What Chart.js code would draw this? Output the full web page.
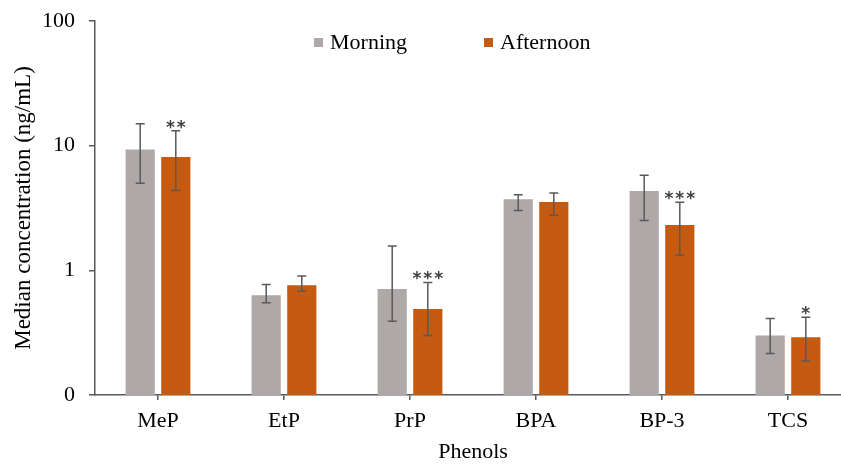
<!DOCTYPE html>
<html>
<head>
<meta charset="utf-8">
<script src="https://cdn.jsdelivr.net/npm/chart.js@4/dist/chart.umd.min.js"></script>
<style>
  html, body { margin: 0; padding: 0; background: #fff; overflow: hidden; }
  #wrap { width: 860px; height: 465px; }
</style>
</head>
<body>
<div id="wrap"><canvas id="chart" width="860" height="465"></canvas></div>
<script>
// Datos
const categories = ['MeP', 'EtP', 'PrP', 'BPA', 'BP-3', 'TCS'];
const morning = [9.3, 0.63, 0.71, 3.72, 4.33, 0.30];
const morningLow = [5.0, 0.55, 0.39, 3.02, 2.51, 0.215];
const morningHigh = [15.0, 0.77, 1.57, 4.03, 5.8, 0.41];
const afternoon = [8.1, 0.76, 0.49, 3.54, 2.31, 0.29];
const afternoonLow = [4.37, 0.68, 0.30, 2.76, 1.32, 0.187];
const afternoonHigh = [13.2, 0.90, 0.80, 4.18, 3.52, 0.42];
const afternoonStars = ['**', '', '***', '', '***', '*'];
const yTickValues = [0.1, 1, 10, 100];
const yTickLabels = ['0', '1', '10', '100'];

const axisColor = '#595959';
const serif = '"Liberation Serif", "Times New Roman", serif';

// Barras de error y asteriscos
const errorBars = {
    id: 'errorBars',
    afterDatasetsDraw(chart) {
        const ctx = chart.ctx;
        const y = chart.scales.y;
        const ranges = [[morningLow, morningHigh], [afternoonLow, afternoonHigh]];
        ctx.save();
        ctx.strokeStyle = axisColor;
        ctx.lineWidth = 1.5;
        ranges.forEach(([low, high], di) => {
            chart.getDatasetMeta(di).data.forEach((bar, i) => {
                const x = bar.x;
                const yl = y.getPixelForValue(low[i]);
                const yh = y.getPixelForValue(high[i]);
                ctx.beginPath();
                ctx.moveTo(x, yl); ctx.lineTo(x, yh);
                ctx.moveTo(x - 4.5, yl); ctx.lineTo(x + 4.5, yl);
                ctx.moveTo(x - 4.5, yh); ctx.lineTo(x + 4.5, yh);
                ctx.stroke();
                if (di === 1 && afternoonStars[i]) {
                    ctx.fillStyle = '#404040';
                    ctx.font = 'bold 17px "DejaVu Sans", sans-serif';
                    ctx.letterSpacing = '2px';
                    ctx.textAlign = 'center';
                    ctx.textBaseline = 'alphabetic';
                    ctx.fillText(afternoonStars[i], x + 1, yh + 2);
                }
            });
        });
        ctx.restore();
    }
};

// Leyenda dibujada a mano
const customLegend = {
    id: 'customLegend',
    afterDraw(chart) {
        const ctx = chart.ctx;
        const pos = [314, 484];
        ctx.save();
        ctx.font = '22px ' + serif;
        ctx.textBaseline = 'middle';
        ctx.textAlign = 'left';
        chart.data.datasets.forEach((ds, i) => {
            ctx.fillStyle = ds.backgroundColor;
            ctx.fillRect(pos[i], 38, 9, 9);
            ctx.fillStyle = '#000';
            ctx.fillText(ds.label, pos[i] + 16, 43);
        });
        ctx.restore();
    }
};

new Chart(document.getElementById('chart'), {
    type: 'bar',
    data: {
        labels: categories,
        datasets: [
            { label: 'Morning', data: morning, backgroundColor: '#AEA9A8', barPercentage: 0.82, categoryPercentage: 0.565 },
            { label: 'Afternoon', data: afternoon, backgroundColor: '#C55A11', barPercentage: 0.82, categoryPercentage: 0.565 }
        ]
    },
    options: {
        responsive: false,
        animation: false,
        layout: { padding: { top: 21, right: 9, left: 0, bottom: 0 } },
        plugins: { legend: { display: false }, tooltip: { enabled: false } },
        scales: {
            x: {
                grid: { display: true, drawOnChartArea: false, offset: false, tickLength: 5, color: axisColor, lineWidth: 1.5 },
                border: { color: axisColor, width: 1.5 },
                ticks: { color: '#000', font: { family: serif, size: 22 }, padding: 8, maxRotation: 0 },
                title: { display: true, text: 'Phenols', color: '#000', font: { family: serif, size: 22 }, padding: { top: 0, bottom: 0 } },
                afterFit(scale) { scale.height = 70; }
            },
            y: {
                type: 'logarithmic',
                min: 0.1,
                max: 100,
                afterBuildTicks(scale) { scale.ticks = yTickValues.map(v => ({ value: v })); },
                grid: { display: true, drawOnChartArea: false, tickLength: 6, color: axisColor, lineWidth: 1.5 },
                border: { color: axisColor, width: 1.5 },
                ticks: {
                    color: '#000',
                    font: { family: serif, size: 22 },
                    padding: 14,
                    callback: (v) => yTickLabels[yTickValues.indexOf(v)] ?? ''
                },
                title: { display: true, text: 'Median concentration (ng/mL)', color: '#000', font: { family: serif, size: 23 }, padding: { top: 10, bottom: 0 } },
                afterFit(scale) {
                    scale.width = 95;
                    scale.paddingTop = 0;
                    scale.paddingBottom = 0;
                }
            }
        }
    },
    plugins: [errorBars, customLegend]
});
</script>
</body>
</html>
